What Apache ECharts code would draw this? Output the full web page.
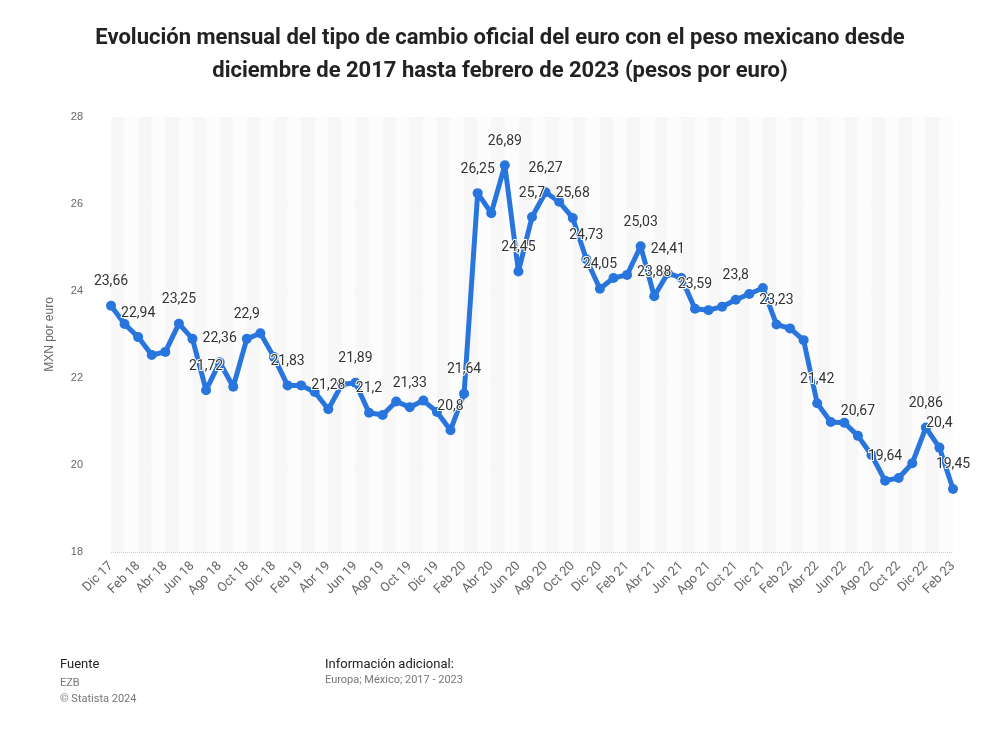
<!DOCTYPE html>
<html><head><meta charset="utf-8">
<script src="https://cdn.jsdelivr.net/npm/echarts@6/dist/echarts.min.js"></script>
<style>body{margin:0;background:#fff}#c{width:1000px;height:743px}</style>
</head><body><div id="c"></div>
<script>
const months = ["Ene","Feb","Mar","Abr","May","Jun","Jul","Ago","Sep","Oct","Nov","Dic"];
const categories = ["Dic 17"];
for (let y = 18; y <= 23; y++) for (let m = 0; m < 12; m++) { if (y === 23 && m > 1) break; categories.push(months[m] + " " + y); }
const values = [23.66,23.24,22.94,22.53,22.6,23.25,22.9,21.72,22.36,21.8,22.9,23.03,22.48,21.83,21.83,21.68,21.28,21.85,21.89,21.2,21.15,21.46,21.33,21.48,21.22,20.8,21.64,26.25,25.79,26.89,24.45,25.7,26.27,26.05,25.68,24.73,24.05,24.3,24.37,25.03,23.88,24.41,24.3,23.59,23.56,23.64,23.8,23.93,24.07,23.23,23.14,22.87,21.42,20.99,20.97,20.67,20.23,19.64,19.7,20.04,20.86,20.4,19.45];
const labelled = [0,2,5,7,8,10,13,16,18,19,22,25,26,27,29,30,31,32,34,35,36,39,40,41,43,46,49,52,55,57,60,61,62];
const chart = echarts.init(document.getElementById('c'));
chart.setOption({
  title:{text:"Evolución mensual del tipo de cambio oficial del euro con el peso mexicano desde\ndiciembre de 2017 hasta febrero de 2023 (pesos por euro)",left:'center',top:17,
    textStyle:{fontFamily:'Roboto, Arial',fontSize:22,fontWeight:'bold',color:'#222',lineHeight:33}},
  grid:{left:111,right:47,top:117,bottom:191},
  xAxis:{type:'category',data:categories,boundaryGap:false,
    axisLine:{show:false},axisTick:{show:false},
    splitArea:{show:true,interval:0,areaStyle:{color:['#f7f7f7','#fcfcfc']}},
    axisLabel:{interval:1,rotate:45,color:'#666',fontSize:13,margin:12,fontFamily:'Roboto, Arial'}},
  yAxis:{type:'value',min:18,max:28,interval:2,name:'MXN por euro',nameLocation:'middle',nameGap:55,
    nameTextStyle:{color:'#666',fontSize:12},
    axisLabel:{color:'#666',fontSize:11,margin:28},
    splitLine:{lineStyle:{color:'#ccc',type:'dotted'}}},
  series:[{type:'line',data:values.map((v,i)=>({value:v,label:{show:labelled.includes(i)}})),
    symbol:'circle',symbolSize:10,showAllSymbol:true,
    labelLayout:{hideOverlap:false},
    lineStyle:{color:'#2876dd',width:5},itemStyle:{color:'#2876dd'},
    label:{position:'top',distance:12,color:'#333',fontSize:14,fontFamily:'Roboto, Arial',
      textBorderColor:'#fff',textBorderWidth:2,formatter:p=>String(p.value).replace('.',',')}}],
  graphic:[
    {type:'text',left:60,top:658,style:{text:'Fuente',fontSize:13,fill:'#222',fontFamily:'Roboto, Arial'}},
    {type:'text',left:60,top:675,style:{text:'EZB\n© Statista 2024',fontSize:11,lineHeight:16,fill:'#777',fontFamily:'Roboto, Arial'}},
    {type:'text',left:325,top:658,style:{text:'Información adicional:',fontSize:13,fill:'#222',fontFamily:'Roboto, Arial'}},
    {type:'text',left:325,top:675,style:{text:'Europa; México; 2017 - 2023',fontSize:11,fill:'#777',fontFamily:'Roboto, Arial'}}
  ]
});
</script></body></html>
